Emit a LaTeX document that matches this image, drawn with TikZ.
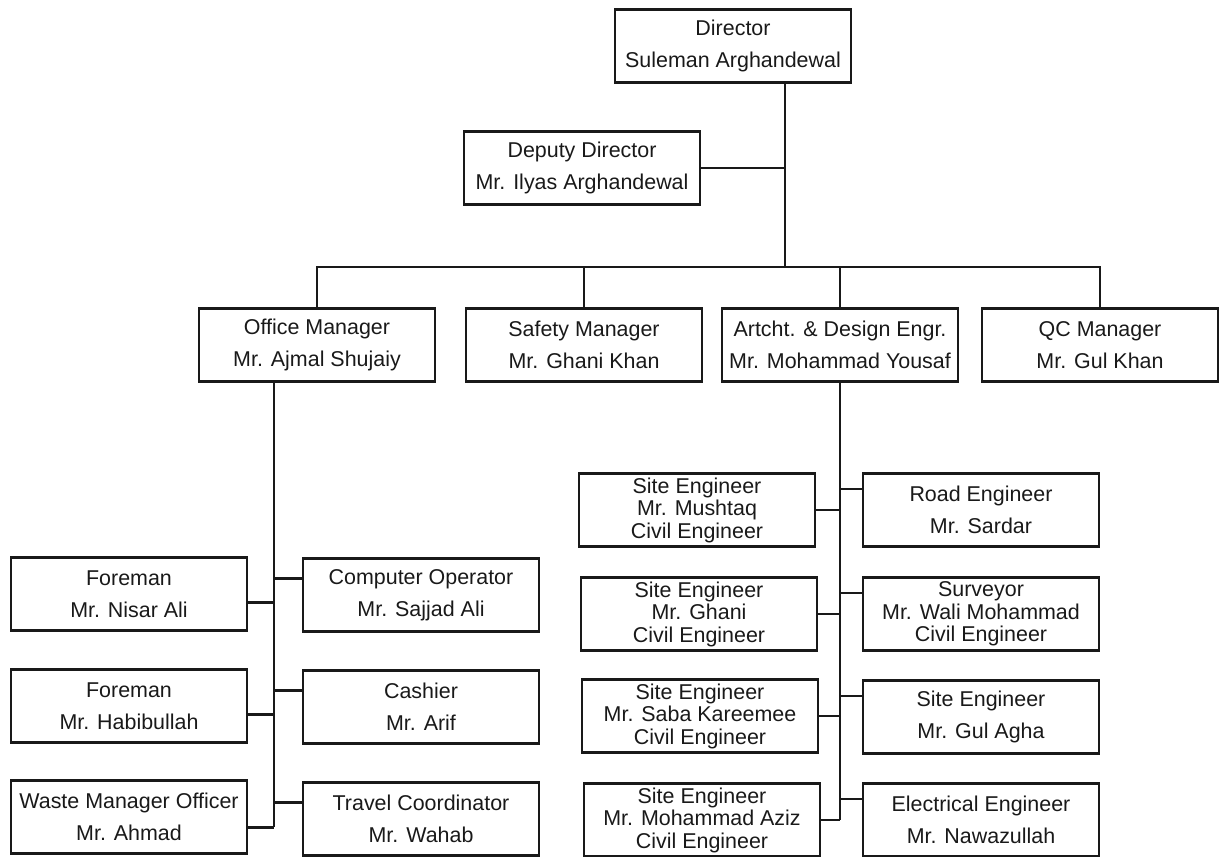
\documentclass[tikz,border=0pt]{standalone}
\usepackage{fontspec}
\setmainfont{Liberation Sans}
\usepackage{tikz}

\begin{document}
\begin{tikzpicture}[x=0.02cm, y=-0.02cm,
        unit/.style={draw=black!90, line width=1.2pt, minimum width=4.72cm, minimum height=1.46cm,
            inner sep=1pt, align=center, text=black!90, font=\fontsize{12.2}{18.2}\selectfont},
        unit3/.style={unit, font=\fontsize{12.2}{12.8}\selectfont},
        link/.style={draw=black!90, line width=1.6pt}]
        \useasboundingbox (0, 0) rectangle (1219, 857);

        \node[unit] (dir) at (733, 46) {Director\\Suleman Arghandewal};
        \node[unit] (dep) at (582, 168) {Deputy Director\\Mr. Ilyas Arghandewal};

        \node[unit] (office) at (317, 345) {Office Manager\\Mr. Ajmal Shujaiy};
        \node[unit] (safety) at (584, 345) {Safety Manager\\Mr. Ghani Khan};
        \node[unit] (art) at (840, 345) {Artcht. \& Design Engr.\\Mr. Mohammad Yousaf};
        \node[unit] (qc) at (1100, 345) {QC Manager\\Mr. Gul Khan};

        \node[unit] (fm1) at (129, 594) {Foreman\\Mr. Nisar Ali};
        \node[unit] (fm2) at (129, 706) {Foreman\\Mr. Habibullah};
        \node[unit] (waste) at (129, 817) {Waste Manager Officer\\Mr. Ahmad};
        \node[unit] (comp) at (421, 595) {Computer Operator\\Mr. Sajjad Ali};
        \node[unit] (cash) at (421, 707) {Cashier\\Mr. Arif};
        \node[unit] (travel) at (421, 819) {Travel Coordinator\\Mr. Wahab};

        \node[unit3] (mushtaq) at (697, 510) {Site Engineer\\Mr. Mushtaq\\Civil Engineer};
        \node[unit3] (ghani) at (699, 614) {Site Engineer\\Mr. Ghani\\Civil Engineer};
        \node[unit3] (saba) at (700, 716) {Site Engineer\\Mr. Saba Kareemee\\Civil Engineer};
        \node[unit3] (aziz) at (702, 820) {Site Engineer\\Mr. Mohammad Aziz\\Civil Engineer};
        \node[unit] (road) at (981, 510) {Road Engineer\\Mr. Sardar};
        \node[unit3] (surv) at (981, 614) {Surveyor\\Mr. Wali Mohammad\\Civil Engineer};
        \node[unit] (agha) at (981, 717) {Site Engineer\\Mr. Gul Agha};
        \node[unit] (elec) at (981, 820) {Electrical Engineer\\Mr. Nawazullah};

        \coordinate (bus) at (785, 267);
        \coordinate (ospine) at (274, 0);

        % Director down to the managers
        \draw[link] (dir.south -| bus) -- (bus);
        \draw[link] (dep.east) -- (dep.east -| bus);
        \draw[link] (office.north) |- (qc.north |- bus) -- (qc.north);
        \draw[link] (safety.north) -- (safety.north |- bus);
        \draw[link] (art.north) -- (art.north |- bus);

        % Office Manager staff
        \draw[link] (ospine |- office.south) -- (ospine |- waste.-5);
        \draw[link] (fm1.-4) -- (fm1.-4 -| ospine);
        \draw[link] (fm2.-4) -- (fm2.-4 -| ospine);
        \draw[link] (waste.-5) -- (waste.-5 -| ospine);
        \draw[link] (comp.172) -- (comp.172 -| ospine);
        \draw[link] (cash.172) -- (cash.172 -| ospine);
        \draw[link] (travel.172) -- (travel.172 -| ospine);

        % Design engineer staff
        \draw[link] (art.south) -- (art.south |- aziz.east);
        \draw[link] (mushtaq.east) -- (mushtaq.east -| art.south);
        \draw[link] (ghani.east) -- (ghani.east -| art.south);
        \draw[link] (saba.east) -- (saba.east -| art.south);
        \draw[link] (aziz.east) -- (aziz.east -| art.south);
        \draw[link] (road.170) -- (road.170 -| art.south);
        \draw[link] (surv.170) -- (surv.170 -| art.south);
        \draw[link] (agha.170) -- (agha.170 -| art.south);
        \draw[link] (elec.170) -- (elec.170 -| art.south);
    \end{tikzpicture}
\end{document}
